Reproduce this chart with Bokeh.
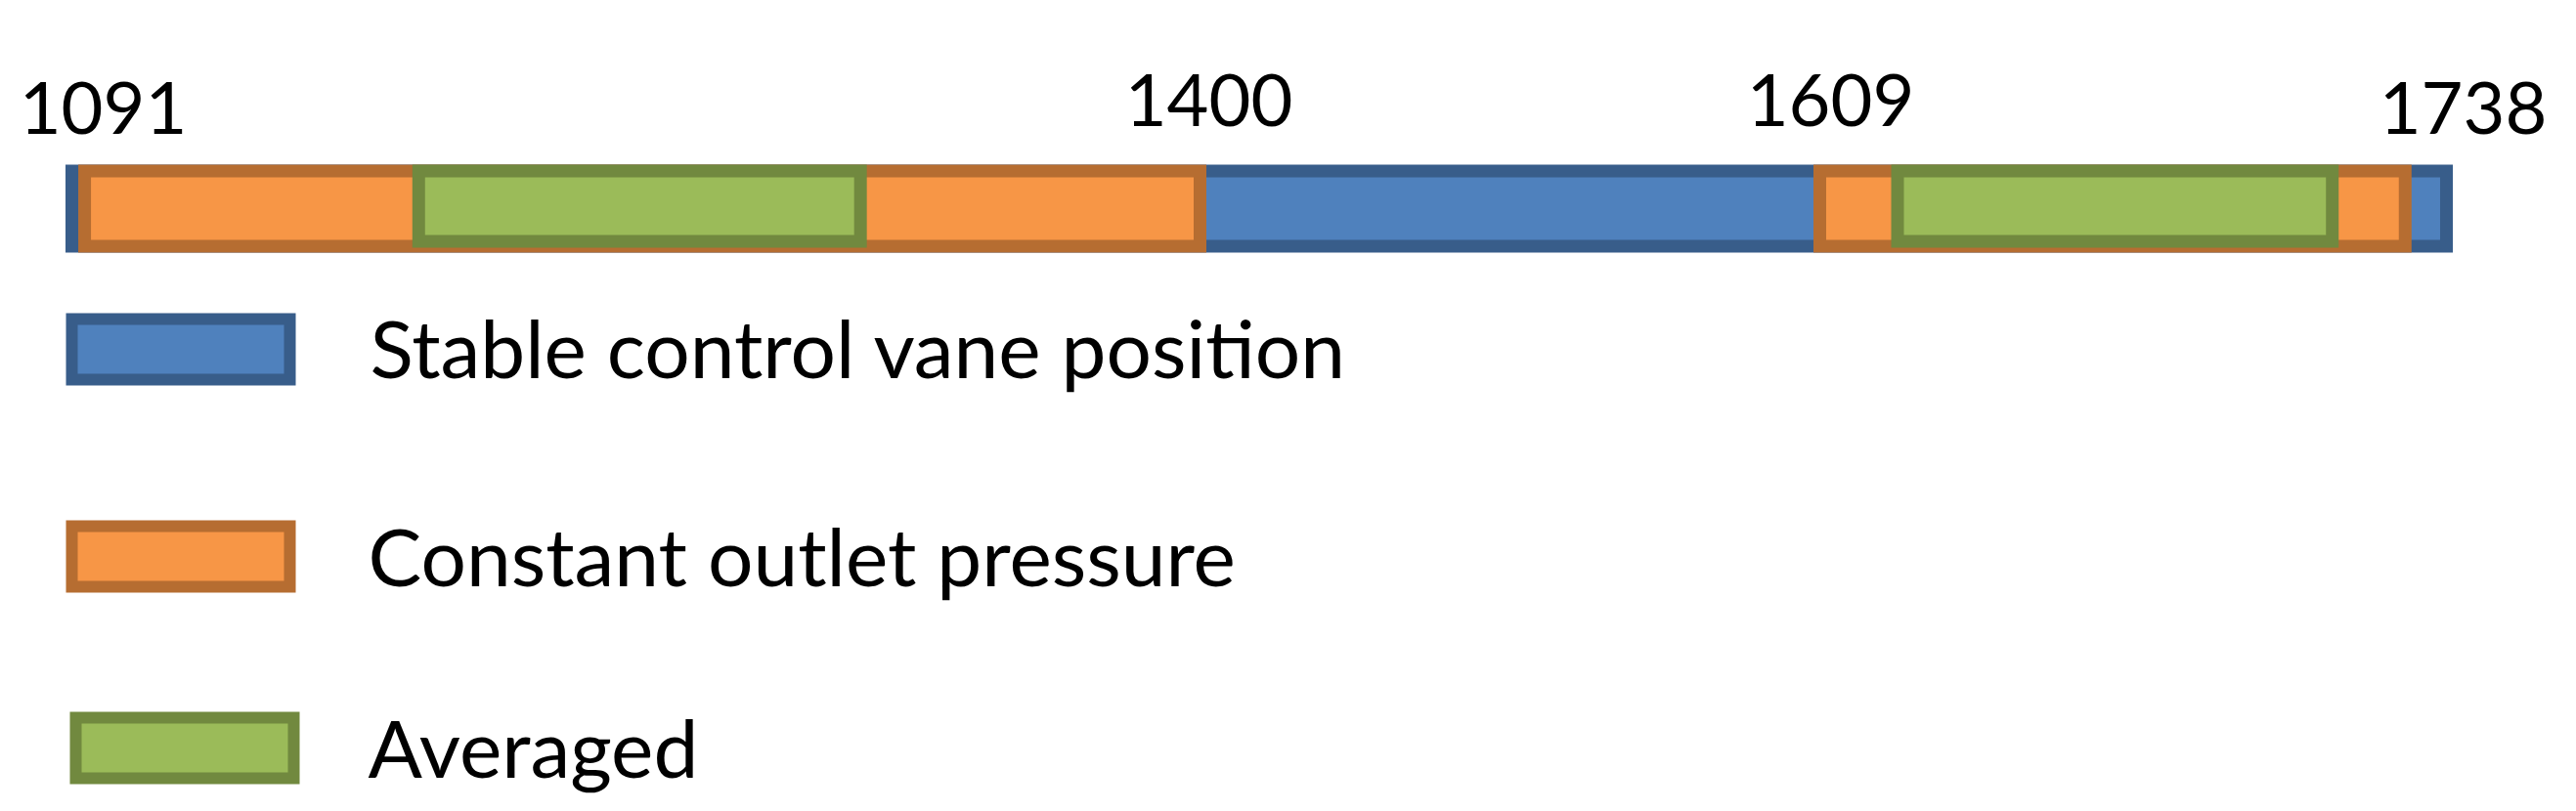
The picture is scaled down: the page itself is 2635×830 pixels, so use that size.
import numpy as np
from bokeh.plotting import figure
from bokeh.models import Range1d, ColumnDataSource
from bokeh.core.properties import value
from bokeh.embed import file_html
from bokeh.resources import INLINE

# ---------------- data (time values) ----------------
tick_values = [1091, 1400, 1609, 1738]
tick_labels = ["1091", "1400", "1609", "1738"]

stable_start = [1091]
stable_end = [1738]

constant_start = [1094.5, 1609]
constant_end = [1400, 1729.5]

averaged_start = [1186, 1625]
averaged_end = [1307, 1714.5]

legend_labels = ["Stable control vane position", "Constant outlet pressure", "Averaged"]

# ---------------- layout / style ----------------
W, H = 2619, 814
FONT = "Lato"
TICK_FS = 74
LEG_FS = 82
BASE_FIX = 0.33   # empirical baseline correction (fraction of font size)
# schematic (not to scale) axis: where each tick value sits along the bar (px)
tick_pos = [73, 1227, 1861, 2502]
label_dx = [32, 9, 11, 17]
label_base = [134, 126, 126, 134]

BLUE = ("#4F81BD", "#385D8A")
ORANGE = ("#F79646", "#B66D31")
GREEN = ("#9BBB59", "#71893F")
LW = 13


def sx(t):
    return np.interp(np.asarray(t, dtype=float), tick_values, tick_pos)


p = figure(width=W, height=H, output_backend="svg", toolbar_location=None,
           x_axis_location=None, y_axis_location=None, min_border=0,
           x_range=Range1d(0, W), y_range=Range1d(H, 0))
p.grid.visible = False
p.outline_line_color = None
p.background_fill_color = "white"
p.border_fill_color = "white"

bar_top, bar_bot = 174.5, 251.5
green_bot = 246.5

p.quad(left=sx(stable_start), right=sx(stable_end), top=bar_top, bottom=bar_bot,
       fill_color=BLUE[0], line_color=BLUE[1], line_width=LW, line_join="miter")
p.quad(left=sx(constant_start), right=sx(constant_end), top=bar_top, bottom=bar_bot,
       fill_color=ORANGE[0], line_color=ORANGE[1], line_width=LW, line_join="miter")
p.quad(left=sx(averaged_start), right=sx(averaged_end), top=bar_top, bottom=green_bot,
       fill_color=GREEN[0], line_color=GREEN[1], line_width=LW, line_join="miter")

# tick labels above the bar
tsrc = ColumnDataSource(dict(x=sx(tick_values) + np.array(label_dx),
                             y=np.array(label_base) - BASE_FIX * TICK_FS, t=tick_labels))
p.text(x="x", y="y", text="t", source=tsrc, text_font=value(FONT),
       text_font_size=f"{TICK_FS}px",
       text_align="center", text_baseline="alphabetic", text_color="black")

# legend drawn manually
leg_left = [73, 73, 77]
leg_top = [326, 538, 734]
leg_w, leg_h = 223, 62
leg_fill = [BLUE[0], ORANGE[0], GREEN[0]]
leg_line = [BLUE[1], ORANGE[1], GREEN[1]]
lsrc = ColumnDataSource(dict(
    l=leg_left, r=[v + leg_w for v in leg_left], t=leg_top, b=[v + leg_h for v in leg_top],
    f=leg_fill, c=leg_line))
p.quad(left="l", right="r", top="t", bottom="b", fill_color="f", line_color="c",
       line_width=12, line_join="miter", source=lsrc)

leg_base = np.array([382, 595, 791])
txt_src = ColumnDataSource(dict(x=[378, 376, 376], y=leg_base - BASE_FIX * LEG_FS, t=legend_labels))
p.text(x="x", y="y", text="t", source=txt_src, text_font=value(FONT),
       text_font_size=f"{LEG_FS}px",
       text_align="left", text_baseline="alphabetic", text_color="black")

open("out.html", "w").write(file_html(p, INLINE))
